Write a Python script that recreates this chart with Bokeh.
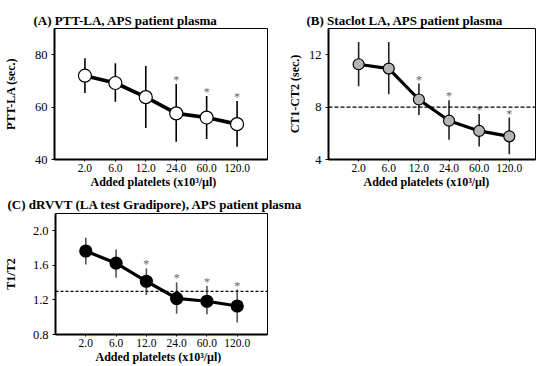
from bokeh.plotting import figure
from bokeh.layouts import column, row
from bokeh.models import FixedTicker, NumeralTickFormatter, Span, ColumnDataSource, Title
from bokeh.embed import file_html
from bokeh.resources import INLINE

# ---------------- data ----------------
x_labels = ["2.0", "6.0", "12.0", "24.0", "60.0", "120.0"]
x_idx = list(range(len(x_labels)))

a_mean = [72.0, 69.2, 63.8, 57.6, 56.0, 53.5]
a_hi = [78.6, 76.7, 75.7, 68.8, 64.2, 62.3]
a_lo = [65.4, 62.0, 52.0, 46.8, 47.8, 44.9]
a_sig = [False, False, False, True, True, True]

b_mean = [11.27, 10.94, 8.58, 6.96, 6.18, 5.77]
b_hi = [12.97, 12.97, 9.80, 8.53, 7.47, 7.20]
b_lo = [9.60, 8.99, 7.40, 5.50, 4.99, 4.40]
b_sig = [False, False, True, True, True, True]
b_cutoff = 8.0

c_mean = [1.766, 1.625, 1.416, 1.217, 1.185, 1.130]
c_hi = [1.918, 1.784, 1.564, 1.405, 1.360, 1.320]
c_lo = [1.610, 1.458, 1.256, 1.040, 1.034, 0.940]
c_sig = [False, False, True, True, True, True]
c_cutoff = 1.3

a_yticks = [40, 60, 80]
b_yticks = [4, 8, 12]
c_yticks = [0.8, 1.2, 1.6, 2.0]

FONT = "Liberation Serif"
XLABEL = "Added platelets (x10\u00b3/\u00b5l)"


def make_panel(title, ylabel, mean, hi, lo, sig, yr, yticks, yfmt,
               width, height, bl, br, bt, bb, xr, title_offset, title_standoff,
               xlab_offset, fill, msize, bar_color, ylab_standoff, lw,
               cutoff=None, dash="4 2"):
    p = figure(width=width, height=height, x_range=xr, y_range=yr,
               output_backend="svg", toolbar_location=None,
               min_border_left=bl, min_border_right=br,
               min_border_top=bt, min_border_bottom=bb)
    p.title.text = title
    p.title.text_font = FONT
    p.title.text_font_size = "13px"
    p.title.text_font_style = "bold"
    p.title.text_color = "black"
    p.title.align = "left"
    p.title.offset = title_offset
    p.title.standoff = title_standoff
    p.grid.visible = False
    p.outline_line_color = "black"
    p.outline_line_width = 1
    p.background_fill_color = "white"
    p.border_fill_color = "white"

    for ax in (p.xaxis[0], p.yaxis[0]):
        ax.axis_line_width = 2
        ax.axis_line_color = "black"
        ax.major_tick_line_color = "black"
        ax.major_tick_out = 3
        ax.major_tick_in = 0
        ax.minor_tick_line_color = None
        ax.major_label_text_font = FONT
        ax.major_label_text_color = "black"
        ax.axis_label_text_font = FONT
        ax.axis_label_text_color = "black"
        ax.axis_label_text_font_style = "bold"
        ax.axis_label_text_font_size = "12px"

    p.xaxis.ticker = FixedTicker(ticks=x_idx)
    p.xaxis.major_label_overrides = {i: s for i, s in zip(x_idx, x_labels)}
    p.xaxis.major_label_text_font_size = "11.5px"
    p.xaxis.major_label_standoff = 2
    p.xaxis.major_tick_out = 2

    # x-axis title, set slightly left of centre as in the original
    xt = Title(text=XLABEL, align="left", offset=xlab_offset, standoff=-3,
               text_font=FONT, text_font_size="12px", text_font_style="bold",
               text_color="black")
    p.add_layout(xt, "below")

    p.yaxis.ticker = FixedTicker(ticks=yticks)
    p.yaxis.formatter = NumeralTickFormatter(format=yfmt)
    p.yaxis.major_label_text_font_size = "12.5px"
    p.yaxis.major_label_standoff = 4
    p.yaxis.axis_label = ylabel
    p.yaxis.axis_label_standoff = ylab_standoff

    if cutoff is not None:
        p.add_layout(Span(location=cutoff, dimension="width", line_color="black",
                          line_dash=dash, line_width=1.2))

    src = ColumnDataSource(dict(x=x_idx, m=mean, hi=hi, lo=lo))
    p.segment(x0="x", y0="lo", x1="x", y1="hi", source=src,
              line_color=bar_color, line_width=1.6)
    p.line(x="x", y="m", source=src, line_color="black", line_width=lw)
    p.scatter(x="x", y="m", source=src, size=msize, fill_color=fill,
              line_color="black", line_width=1.2)

    sx = [x for x, s in zip(x_idx, sig) if s]
    sy = [h for h, s in zip(hi, sig) if s]
    p.text(x=sx, y=sy, text=["*"] * len(sx), text_align="center",
           text_baseline="middle", text_font_size="12px", text_color="#666666",
           text_font=FONT, y_offset=-4)
    return p


pa = make_panel("(A) PTT-LA, APS patient plasma", "PTT-LA (sec.)",
                a_mean, a_hi, a_lo, a_sig, (40, 90), a_yticks, "0",
                270, 192, 54, 3, 28, 33, (-1, 6), -21, 1, 36,
                "white", 13, "black", 14, 3.6)
pb = make_panel("(B) Staclot LA, APS patient plasma", "CT1-CT2 (sec.)",
                b_mean, b_hi, b_lo, b_sig, (4, 14), b_yticks, "0",
                266, 192, 58, 1, 28, 33, (-1, 5.87), -22, 1, 35,
                "#b4b4b4", 11, "#222222", 4, 3.2, cutoff=b_cutoff)
pc = make_panel("(C) dRVVT (LA test Gradipore), APS patient plasma", "T1/T2",
                c_mean, c_hi, c_lo, c_sig, (0.8, 2.2), c_yticks, "0.0",
                340, 173, 54, 73, 20, 31, (-1, 6), -48, 4, 40,
                "black", 12, "#555555", 12, 3.2, cutoff=c_cutoff, dash="3 2")

layout = column(row(pa, pb), pc)
open("out.html", "w").write(file_html(layout, INLINE))
